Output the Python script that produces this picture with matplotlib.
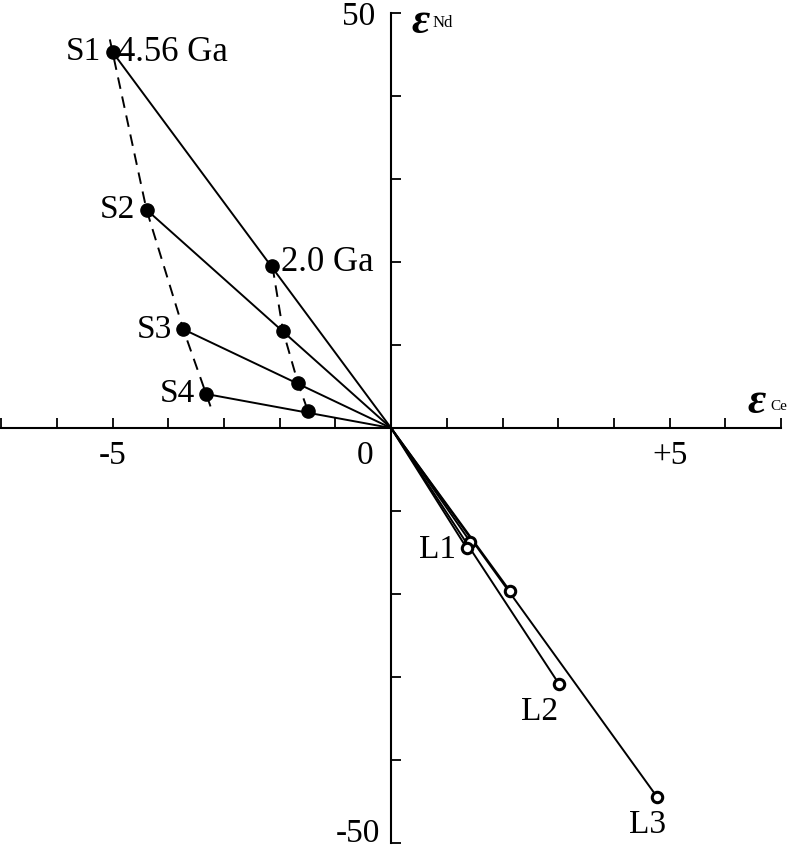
import numpy as np
import matplotlib
matplotlib.use('Agg')
import matplotlib.pyplot as plt

plt.rcParams['font.family'] = ['Liberation Serif', 'DejaVu Serif']

# points solides (S1..S4) a 4.56 Ga
s_x = [-5.00, -4.39, -3.73, -3.32]
s_y = [45.3, 26.3, 11.9, 4.1]
s_labels = ['S1', 'S2', 'S3', 'S4']

# memes reservoirs a 2.0 Ga
g_x = [-2.13, -1.94, -1.67, -1.49]
g_y = [19.5, 11.7, 5.4, 2.0]

# points liquides (cercles ouverts)
l_x = [1.42, 1.36, 2.13, 3.01, 4.78]
l_y = [-13.7, -14.5, -19.6, -30.8, -44.5]
l_labels = {'L1': (0.84, -14.7), 'L2': (2.67, -34.2), 'L3': (4.60, -47.8)}

x_ticks = np.arange(-7, 8, 1)
y_ticks = np.arange(-50, 51, 10)

fig = plt.figure(figsize=(7.9, 8.5), dpi=100)
ax = fig.add_axes([0, 0, 1, 1])
ax.set_xlim(-7.02, 7.16)
ax.set_ylim(-50.84, 51.57)

# axes en croix passant par l'origine
for side in ['top', 'right']:
    ax.spines[side].set_visible(False)
ax.spines['left'].set_position(('data', 0))
ax.spines['bottom'].set_position(('data', 0))
ax.spines['left'].set_bounds(-50, 50)
ax.spines['bottom'].set_bounds(-7, 7)
for side in ['left', 'bottom']:
    ax.spines[side].set_linewidth(1.5)
ax.set_xticks(x_ticks)
ax.set_yticks(y_ticks)
ax.set_xticklabels([])
ax.set_yticklabels([])
ax.tick_params(direction='in', length=7, width=1.3)

# lignes origine -> points
for x, y in zip(s_x + l_x, s_y + l_y):
    ax.plot([0, x], [0, y], color='black', lw=1.4, zorder=2)

# lignes en tirets (isochrones)
sx, sy = np.array(s_x), np.array(s_y)
ext0 = 0.08 * (sx[0] - sx[1]), 0.08 * (sy[0] - sy[1])
ext1 = 0.2 * (sx[-1] - sx[-2]), 0.2 * (sy[-1] - sy[-2])
dash_x = np.concatenate([[sx[0] + ext0[0]], sx, [sx[-1] + ext1[0]]])
dash_y = np.concatenate([[sy[0] + ext0[1]], sy, [sy[-1] + ext1[1]]])
ax.plot(dash_x, dash_y, color='black', lw=1.4, ls=(0, (6, 4)), zorder=2)
ax.plot(g_x, g_y, color='black', lw=1.4, ls=(0, (6, 4)), zorder=2)

ax.plot(s_x + g_x, s_y + g_y, 'o', color='black', ms=9.5, zorder=3)
ax.plot(l_x, l_y, 'o', mfc='white', mec='black', ms=7.5, mew=2.2, zorder=3)

fs = 24
for lab, x, y in zip(s_labels, s_x, s_y):
    ax.text(x - 0.2, y, lab, fontsize=fs, ha='right', va='center')
ax.text(s_x[0] + 0.1, s_y[0], '4.56 Ga', fontsize=25, ha='left', va='center')
ax.text(g_x[0] + 0.16, g_y[0] + 0.5, '2.0 Ga', fontsize=25, ha='left', va='center')
for lab, (x, y) in l_labels.items():
    ax.text(x, y, lab, fontsize=fs, ha='center', va='center')

# etiquettes des axes
ax.text(-5, -3.3, '-5', fontsize=fs, ha='center', va='center')
ax.text(-0.47, -3.3, '0', fontsize=fs, ha='center', va='center')
ax.text(5, -3.3, '+5', fontsize=fs, ha='center', va='center')
ax.text(-0.29, 49.6, '50', fontsize=fs, ha='right', va='center')
ax.text(-0.2, -48.9, '-50', fontsize=fs, ha='right', va='center')

ax.text(0.36, 48.9, 'ε', fontsize=32, style='italic', weight='bold', ha='left', va='center')
ax.text(0.75, 48.8, 'Nd', fontsize=12, ha='left', va='center')
ax.text(6.40, 3.1, 'ε', fontsize=32, style='italic', weight='bold', ha='left', va='center')
ax.text(6.81, 2.6, 'Ce', fontsize=11, ha='left', va='center')

fig.savefig('out.png', dpi=100)
